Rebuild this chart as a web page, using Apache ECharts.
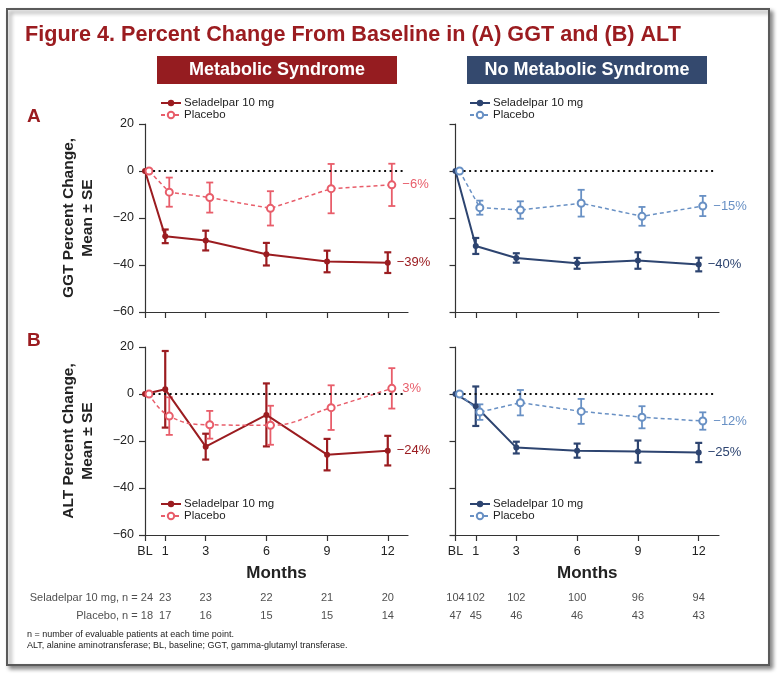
<!DOCTYPE html>
<html>
<head>
<meta charset="utf-8">
<title>Figure 4</title>
<script src="https://cdn.jsdelivr.net/npm/echarts@6/dist/echarts.min.js"></script>
<style>
  html, body { margin: 0; padding: 0; background: #fff; }
  #chart { width: 784px; height: 674px; }
</style>
</head>
<body>
<div id="chart"></div>
<script>
var months = [0, 1, 3, 6, 9, 12];
var tickValues = [0, 1, 3, 6, 9, 12];

// (A) GGT, mean and SE
var ggtSelMS = [0, -27.8, -29.6, -35.4, -38.5, -39.0];
var ggtSelMSse = [0, 2.9, 4.2, 4.8, 4.6, 4.4];
var ggtPlaMS = [0, -9.0, -11.3, -15.9, -7.5, -5.9];
var ggtPlaMSse = [0, 6.2, 6.4, 7.3, 10.5, 9.0];
var ggtSelNo = [0, -31.9, -37.0, -39.3, -38.1, -39.8];
var ggtSelNoSe = [0, 3.4, 2.0, 2.3, 3.5, 2.9];
var ggtPlaNo = [0, -15.6, -16.6, -13.7, -19.3, -14.9];
var ggtPlaNoSe = [0, 3.0, 3.7, 5.7, 4.0, 4.3];

// (B) ALT, mean and SE
var altSelMS = [0, 2.0, -22.4, -8.9, -25.8, -24.1];
var altSelMSse = [0, 16.3, 5.5, 13.4, 6.7, 6.3];
var altPlaMS = [0, -9.4, -13.1, -13.3, -5.8, 2.4];
var altPlaMSse = [0, 8.0, 5.9, 8.3, 9.5, 8.6];
var altSelNo = [0, -5.2, -22.8, -24.1, -24.5, -24.9];
var altSelNoSe = [0, 8.4, 2.5, 3.0, 4.7, 4.1];
var altPlaNo = [0, -7.7, -3.7, -7.4, -9.9, -11.5];
var altPlaNoSe = [0, 3.3, 5.4, 5.3, 4.7, 3.7];

var endLabels = {
  ggtSelMS: '\u221239%', ggtPlaMS: '\u22126%', ggtSelNo: '\u221240%', ggtPlaNo: '\u221215%',
  altSelMS: '\u221224%', altPlaMS: '3%', altSelNo: '\u221225%', altPlaNo: '\u221212%'
};

// patients at each time point
var rowNames = ['Seladelpar 10 mg', 'Placebo'];
var nSelMS = [24, 23, 23, 22, 21, 20];
var nPlaMS = [18, 17, 16, 15, 15, 14];
var nSelNo = [104, 102, 102, 100, 96, 94];
var nPlaNo = [47, 45, 46, 46, 43, 43];

var RED = '#9b1c20', PINK = '#e85d6a', NAVY = '#2d4470', LBLUE = '#6890c4';
var FONT = 'Liberation Sans, Arial, sans-serif';
var dodge = 0.2;

var dom = document.getElementById('chart');
var myChart = echarts.init(dom);

function minus(v) {
  return String(v).replace('-', '\u2212');
}

function errBars(color, width) {
  return function (params, api) {
    var x = api.value(0);
    var p1 = api.coord([x, api.value(2)]);
    var p2 = api.coord([x, api.value(1)]);
    var w = 3.5;
    var st = { stroke: color, lineWidth: width };
    return {
      type: 'group',
      children: [
        { type: 'line', shape: { x1: p1[0], y1: p1[1], x2: p2[0], y2: p2[1] }, style: st },
        { type: 'line', shape: { x1: p1[0] - w, y1: p1[1], x2: p1[0] + w, y2: p1[1] }, style: st },
        { type: 'line', shape: { x1: p2[0] - w, y1: p2[1], x2: p2[0] + w, y2: p2[1] }, style: st }
      ]
    };
  };
}

function makeSeries(idx, name, mean, se, shift, color, isPla, endText, smooth) {
  var last = mean.length - 1;
  var pts = mean.map(function (v, i) {
    var p = [months[i] + shift, v];
    if (i === last) {
      return {
        value: p,
        label: {
          show: true, position: 'right', distance: 6, formatter: endText,
          color: color, fontSize: 13, fontFamily: FONT
        }
      };
    }
    return p;
  });
  var bars = [];
  mean.forEach(function (v, i) {
    if (se[i] > 0) bars.push([months[i] + shift, v - se[i], v + se[i]]);
  });
  var line = {
    name: name, type: 'line', xAxisIndex: idx, yAxisIndex: idx,
    data: pts, z: 4, smooth: smooth || false,
    symbol: isPla ? 'emptyCircle' : 'circle',
    symbolSize: isPla ? 7 : 6,
    itemStyle: { color: color, borderWidth: isPla ? 1.5 : 0 },
    lineStyle: { color: color, width: isPla ? 1.5 : 2, type: isPla ? [4, 3] : 'solid' },
    emphasis: { disabled: true }
  };
  if (isPla) {
    line.markLine = {
      silent: true, symbol: 'none', label: { show: false },
      lineStyle: { color: '#111', type: [2, 3.5], width: 2 },
      data: [[{ coord: [0.4, 0] }, { coord: [12.8, 0] }]]
    };
  }
  var err = {
    name: name + ' SE', type: 'custom', xAxisIndex: idx, yAxisIndex: idx,
    renderItem: errBars(color, isPla ? 1.8 : 2.2),
    encode: { x: 0, y: [1, 2] }, data: bars, z: 3, silent: true
  };
  return [line, err];
}

var grids = [
  { left: 145, top: 124, width: 263, height: 188 },
  { left: 455.5, top: 124, width: 263.5, height: 188 },
  { left: 145, top: 347, width: 263, height: 188 },
  { left: 455.5, top: 347, width: 263.5, height: 188 },
  { left: 145, top: 589, width: 263, height: 36 },
  { left: 455.5, top: 589, width: 263.5, height: 36 }
];

var xAxes = [], yAxes = [];
var yNames = ['GGT Percent Change,\nMean \u00b1 SE', '', 'ALT Percent Change,\nMean \u00b1 SE', ''];
for (var g = 0; g < 4; g++) {
  var bottom = g >= 2;
  var left = g % 2 === 0;
  xAxes.push({
    type: 'value', gridIndex: g, min: 0, max: 13,
    splitLine: { show: false },
    axisLine: { onZero: false, lineStyle: { color: '#333', width: 1.2 } },
    axisTick: { show: true, length: 6, customValues: tickValues, lineStyle: { color: '#333', width: 1.2 } },
    axisLabel: {
      show: bottom, customValues: tickValues, margin: 10, color: '#222', fontSize: 12.5, fontFamily: FONT,
      formatter: function (v) { return v === 0 ? 'BL' : v; }
    },
    name: bottom ? 'Months' : '', nameLocation: 'middle', nameGap: 30,
    nameTextStyle: { fontSize: 17, fontWeight: 'bold', color: '#222', fontFamily: FONT }
  });
  yAxes.push({
    type: 'value', gridIndex: g, min: -60, max: 20, interval: 20,
    splitLine: { show: false },
    axisLine: { show: true, onZero: false, lineStyle: { color: '#333', width: 1.2 } },
    axisTick: { show: true, length: 6, lineStyle: { color: '#333', width: 1.2 } },
    axisLabel: {
      show: left, margin: 11, color: '#222', fontSize: 12.5, fontFamily: FONT,
      formatter: function (v) { return minus(v); }
    },
    name: yNames[g], nameLocation: 'middle', nameRotate: 90, nameGap: 48,
    nameTextStyle: { fontSize: 15.5, fontWeight: 'bold', color: '#222', fontFamily: FONT, lineHeight: 19 }
  });
}
for (var t = 4; t < 6; t++) {
  xAxes.push({ type: 'value', gridIndex: t, min: 0, max: 13, show: false });
  yAxes.push({ type: 'category', gridIndex: t, data: rowNames, inverse: true, show: false });
}

var series = [].concat(
  makeSeries(0, 'Seladelpar 10 mg|MS', ggtSelMS, ggtSelMSse, 0, RED, false, endLabels.ggtSelMS),
  makeSeries(0, 'Placebo|MS', ggtPlaMS, ggtPlaMSse, dodge, PINK, true, endLabels.ggtPlaMS),
  makeSeries(1, 'Seladelpar 10 mg|No', ggtSelNo, ggtSelNoSe, 0, NAVY, false, endLabels.ggtSelNo),
  makeSeries(1, 'Placebo|No', ggtPlaNo, ggtPlaNoSe, dodge, LBLUE, true, endLabels.ggtPlaNo),
  makeSeries(2, 'Seladelpar 10 mg|MS', altSelMS, altSelMSse, 0, RED, false, endLabels.altSelMS),
  makeSeries(2, 'Placebo|MS', altPlaMS, altPlaMSse, dodge, PINK, true, endLabels.altPlaMS, 0.45),
  makeSeries(3, 'Seladelpar 10 mg|No', altSelNo, altSelNoSe, 0, NAVY, false, endLabels.altSelNo),
  makeSeries(3, 'Placebo|No', altPlaNo, altPlaNoSe, dodge, LBLUE, true, endLabels.altPlaNo)
);

function tableSeries(idx, rows, withNames) {
  var data = [];
  rows.forEach(function (vals, r) {
    vals.forEach(function (n, i) {
      var item = { value: [months[i], r, n] };
      if (withNames && i === 0) {
        item.label = { align: 'right', offset: [8, 0], formatter: rowNames[r] + ', n = ' + n };
      }
      data.push(item);
    });
  });
  return {
    type: 'scatter', xAxisIndex: idx, yAxisIndex: idx, symbolSize: 0, silent: true,
    data: data,
    label: {
      show: true, position: 'inside', color: '#222', fontSize: 11, fontFamily: FONT,
      formatter: function (p) { return p.value[2]; }
    }
  };
}
series.push(tableSeries(4, [nSelMS, nPlaMS], true));
series.push(tableSeries(5, [nSelNo, nPlaNo], false));

function legendAt(left, top, tag) {
  return {
    left: left, top: top, orient: 'vertical', itemWidth: 20, itemHeight: 8, itemGap: 0, padding: 0,
    data: ['Seladelpar 10 mg|' + tag, 'Placebo|' + tag],
    selectedMode: false,
    formatter: function (n) { return n.split('|')[0]; },
    textStyle: { fontSize: 11.5, color: '#222', fontFamily: FONT, lineHeight: 12, padding: [0, 0, 0, -2] }
  };
}

option = {
  animation: false,
  backgroundColor: '#fff',
  textStyle: { fontFamily: FONT },
  grid: grids,
  xAxis: xAxes,
  yAxis: yAxes,
  legend: [
    legendAt(160, 97, 'MS'),
    legendAt(469, 97, 'No'),
    legendAt(160, 498, 'MS'),
    legendAt(469, 498, 'No')
  ],
  graphic: [
    {
      type: 'rect', z: -10, shape: { x: 7, y: 9, width: 762, height: 656 },
      style: { fill: '#fff', stroke: '#5a5a5a', lineWidth: 2, shadowBlur: 4, shadowOffsetX: 3, shadowOffsetY: 3, shadowColor: 'rgba(0,0,0,0.45)' }
    },
    {
      type: 'text', left: 25, top: 24,
      style: { text: 'Figure 4. Percent Change From Baseline in (A) GGT and (B) ALT', fill: RED, font: 'bold 21.6px ' + FONT }
    },
    { type: 'rect', shape: { x: 157, y: 56, width: 240, height: 28 }, style: { fill: '#951c20' } },
    {
      type: 'text', x: 277, y: 70,
      style: { text: 'Metabolic Syndrome', fill: '#fff', font: 'bold 18px ' + FONT, align: 'center', verticalAlign: 'middle' }
    },
    { type: 'rect', shape: { x: 467, y: 56, width: 240, height: 28 }, style: { fill: '#34496e' } },
    {
      type: 'text', x: 587, y: 70,
      style: { text: 'No Metabolic Syndrome', fill: '#fff', font: 'bold 18px ' + FONT, align: 'center', verticalAlign: 'middle' }
    },
    { type: 'text', x: 27, y: 117, style: { text: 'A', fill: RED, font: 'bold 19px ' + FONT, verticalAlign: 'middle' } },
    { type: 'text', x: 27, y: 341, style: { text: 'B', fill: RED, font: 'bold 19px ' + FONT, verticalAlign: 'middle' } },
    {
      type: 'text', x: 27, y: 635,
      style: { text: 'n = number of evaluable patients at each time point.', fill: '#222', font: '9px ' + FONT, verticalAlign: 'middle' }
    },
    {
      type: 'text', x: 27, y: 646,
      style: { text: 'ALT, alanine aminotransferase; BL, baseline; GGT, gamma-glutamyl transferase.', fill: '#222', font: '9px ' + FONT, verticalAlign: 'middle' }
    }
  ],
  series: series
};

if (option && typeof option === 'object') {
  myChart.setOption(option, true);
}

window.onresize = function () {
  myChart.resize();
};
</script>
</body>
</html>
